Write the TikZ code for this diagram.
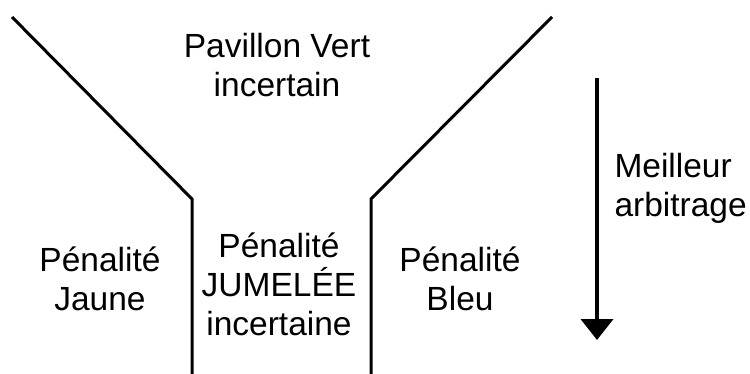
\documentclass[tikz,border=0pt]{standalone}
\usepackage{fontspec}
\setmainfont{Liberation Sans}
\usetikzlibrary{arrows.meta}
\tikzset{
  lbl/.style={align=center, font=\fontsize{33.5}{39}\selectfont, inner sep=0pt},
}
\begin{document}
\begin{tikzpicture}[x=1pt, y=-1pt, line width=3pt]
  \useasboundingbox (0, 0) rectangle (750, 374);
  % funnel walls
  \draw (12, 17) -- (192, 199) -- (192, 374);
  \draw (552, 17) -- (371, 199) -- (371, 374);
  % labels
  \node[lbl, anchor=base] (vert) at (277, 97) {Pavillon Vert\\incertain};
  \node[lbl, anchor=base] (jaune) at (100, 310) {Pénalité\\Jaune};
  \node[lbl, anchor=base] (jumelee) at (279, 335) {Pénalité\\JUMELÉE\\incertaine};
  \node[lbl, anchor=base] (bleu) at (460, 310) {Pénalité\\Bleu};
  \node[lbl, align=left, anchor=base west] (arbitrage) at (613, 217) {Meilleur\\arbitrage};
  % arrow
  \coordinate (arrtop) at (597, 78);
  \coordinate (arrtip) at (597, 340);
  \draw[line width=4pt, -{Triangle[width=32pt, length=21pt]}] (arrtop) -- (arrtip);
\end{tikzpicture}
\end{document}
